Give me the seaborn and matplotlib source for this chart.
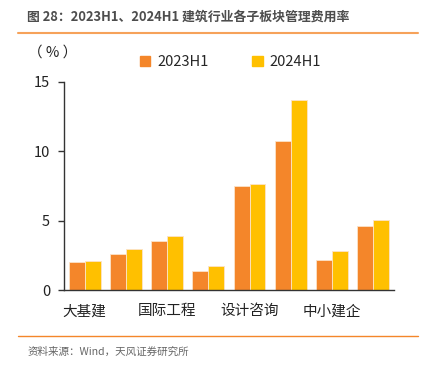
import numpy as np
import pandas as pd
import matplotlib
matplotlib.use("Agg")
import matplotlib.pyplot as plt
import seaborn as sns
from matplotlib.lines import Line2D

sns.set_style("white")
plt.rcParams['font.family'] = ['Noto Sans CJK SC', 'DejaVu Sans']

# data
categories = ["大基建", "c2", "国际工程", "c4", "设计咨询", "c6", "中小建企", "c8"]
tick_labels = ["大基建", "", "国际工程", "", "设计咨询", "", "中小建企", ""]
h1_2023 = [2.04, 2.64, 3.53, 1.41, 7.51, 10.75, 2.20, 4.65]
h1_2024 = [2.10, 2.97, 3.93, 1.75, 7.65, 13.70, 2.80, 5.06]
series = ["2023H1", "2024H1"]

df = pd.DataFrame({
    "cat": categories * 2,
    "val": h1_2023 + h1_2024,
    "period": [series[0]] * 8 + [series[1]] * 8,
})

fig = plt.figure(figsize=(4.31, 3.71), dpi=100)
ax = fig.add_axes([0.1485, 0.2175, 0.7655, 0.5615])

palette = {"2023H1": "#F4862A", "2024H1": "#FFC000"}
sns.barplot(data=df, x="cat", y="val", hue="period", palette=palette,
            width=0.77, saturation=1, edgecolor="#FCE3C8", linewidth=0.6,
            legend=False, ax=ax)

ax.set_ylim(0, 15)
ax.set_xlim(-0.5, 7.5)
ax.set_yticks([0, 5, 10, 15])
ax.set_xticks(range(8))
ax.set_xticklabels(tick_labels, fontsize=10.5, color="#222222")
ax.set_xticks(np.arange(-0.5, 8, 1), minor=True)
ax.tick_params(axis="x", which="major", length=0, pad=10)
ax.tick_params(axis="x", which="minor", length=4, width=1, color="#333333")
ax.tick_params(axis="y", length=4, width=1, color="#333333", labelsize=10.5,
               labelcolor="#222222", pad=6, left=True)
ax.set_xlabel("")
ax.set_ylabel("")
for s in ["top", "right"]:
    ax.spines[s].set_visible(False)
for s in ["left", "bottom"]:
    ax.spines[s].set_color("#333333")
    ax.spines[s].set_linewidth(1)

# y unit
fig.text(0.066, 0.858, "（ % ）", fontsize=10.5, color="#222222", va="center")

# legend
handles = [plt.Rectangle((0, 0), 1, 1, color=palette[s]) for s in series]
fig.legend(handles, series, loc="center", bbox_to_anchor=(0.535, 0.832), ncol=2,
           frameon=False, handlelength=0.7, handleheight=0.7, handletextpad=0.5,
           columnspacing=3.0, fontsize=10.5)

# title and decorations
fig.text(0.063, 0.955, "图 28：2023H1、2024H1 建筑行业各子板块管理费用率",
         fontsize=9.3, fontweight="bold", color="#4D4D4D", va="center")
fig.add_artist(Line2D([0.042, 0.97], [0.911, 0.911], color="#F6A25A", lw=1.5,
                      transform=fig.transFigure))
fig.add_artist(Line2D([0.042, 0.97], [0.094, 0.094], color="#F4862A", lw=1,
                      transform=fig.transFigure))
fig.text(0.063, 0.052, "资料来源：Wind，天风证券研究所", fontsize=7.6, color="#666666",
         va="center")

fig.savefig("out.png", dpi=100)
